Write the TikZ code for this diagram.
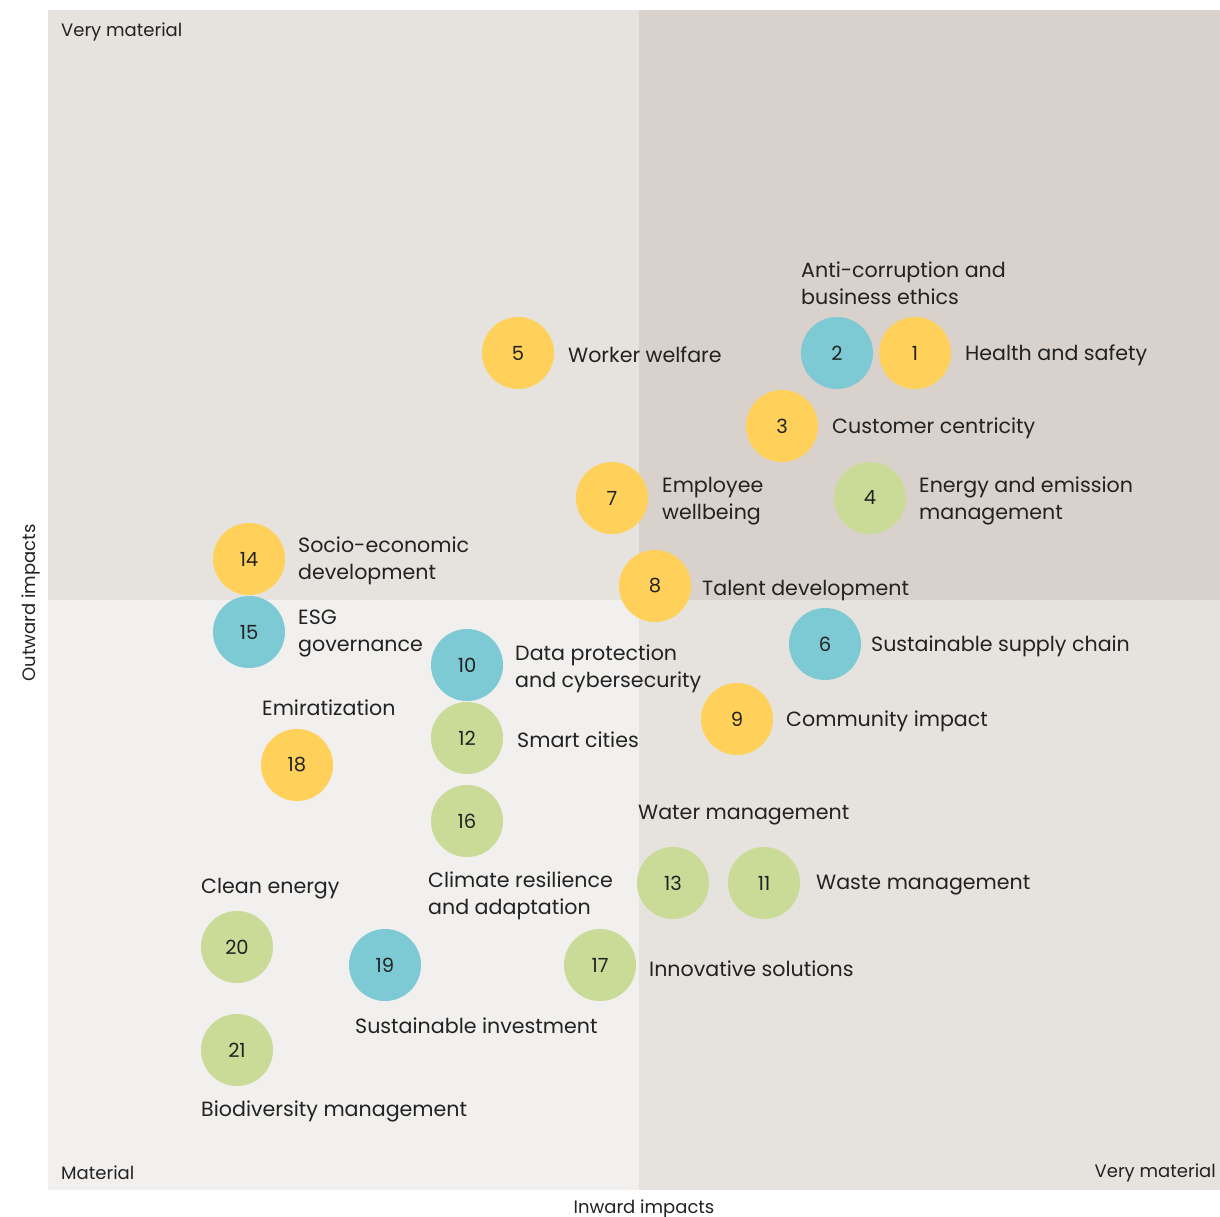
\documentclass[tikz,border=0pt]{standalone}
\usepackage{fontspec}
\setmainfont{Poppins}
\definecolor{qtl}{HTML}{E6E3DF}
\definecolor{qtr}{HTML}{D9D2CC}
\definecolor{qbl}{HTML}{F1F0EE}
\definecolor{qbr}{HTML}{E6E3DF}
\definecolor{cy}{HTML}{FFD05A}
\definecolor{cb}{HTML}{7DC9D4}
\definecolor{cg}{HTML}{C9DB96}
\definecolor{ink}{HTML}{222222}
\begin{document}
\begin{tikzpicture}[x=1pt,y=-1pt,
  bub/.style={circle,minimum size=72pt,inner sep=0pt,text=ink,font=\fontsize{19.5}{22}\selectfont},
  yb/.style={bub,fill=cy},
  bb/.style={bub,fill=cb},
  gb/.style={bub,fill=cg},
  lab/.style={anchor=west,align=left,inner sep=0pt,text=ink,yshift=-2pt,font=\fontsize{20.6}{27}\selectfont},
  ax/.style={inner sep=0pt,text=ink,yshift=-2.5pt,font=\fontsize{18}{22}\selectfont}]
\useasboundingbox (0,0) rectangle (1220,1217);
\fill[white] (0,0) rectangle (1220,1217);
\fill[qtl] (48,10) rectangle (639,600);
\fill[qtr] (639,10) rectangle (1220,600);
\fill[qbl] (48,600) rectangle (639,1190);
\fill[qbr] (639,600) rectangle (1220,1190);
% axis / corner labels
\node[ax,anchor=west] (vm1) at (61,29) {Very material};
\node[ax,anchor=west] (mat) at (61,1170) {Material};
\node[ax,anchor=east] (vm2) at (1216,1170) {Very material};
\node[ax] (xin) at (644,1206) {Inward impacts};
\node[ax,rotate=90,yshift=2.5pt,xshift=-2.5pt] (yout) at (33,598) {Outward impacts};
% bubbles
\node[yb] (c1) at (915,353) {1};
\node[bb] (c2) at (837,353) {2};
\node[yb] (c3) at (782,426) {3};
\node[gb] (c4) at (870,498) {4};
\node[yb] (c5) at (518,353) {5};
\node[bb] (c6) at (825,644) {6};
\node[yb] (c7) at (612,498) {7};
\node[yb] (c8) at (655,586) {8};
\node[yb] (c9) at (737,719) {9};
\node[bb] (c10) at (467,665) {10};
\node[gb] (c11) at (764,883) {11};
\node[gb] (c12) at (467,738) {12};
\node[gb] (c13) at (673,883) {13};
\node[yb] (c14) at (249,559) {14};
\node[bb] (c15) at (249,632) {15};
\node[gb] (c16) at (467,821) {16};
\node[gb] (c17) at (600,965) {17};
\node[yb] (c18) at (297,765) {18};
\node[bb] (c19) at (385,965) {19};
\node[gb] (c20) at (237,947) {20};
\node[gb] (c21) at (237,1050) {21};
% labels
\node[lab] (l1) at (965,353) {Health and safety};
\node[lab] (l2) at (801,281) {Anti-corruption and\\business ethics};
\node[lab] (l3) at (832,426) {Customer centricity};
\node[lab] (l4) at (919,499) {Energy and emission\\management};
\node[lab] (l5) at (568,353) {Worker welfare};
\node[lab] (l6) at (871,644) {Sustainable supply chain};
\node[lab] (l7) at (662,499) {Employee\\wellbeing};
\node[lab] (l8) at (702,589) {Talent development};
\node[lab] (l9) at (786,719) {Community impact};
\node[lab] (l10) at (515,667) {Data protection\\and cybersecurity};
\node[lab] (l11) at (816,883) {Waste management};
\node[lab] (l12) at (517,738) {Smart cities};
\node[lab] (l13) at (638,813) {Water management};
\node[lab] (l14) at (298,559) {Socio-economic\\development};
\node[lab] (l15) at (298,632) {ESG\\governance};
\node[lab] (l16) at (428,894) {Climate resilience\\and adaptation};
\node[lab] (l17) at (649,967) {Innovative solutions};
\node[lab] (l18) at (262,706) {Emiratization};
\node[lab] (l19) at (355,1024) {Sustainable investment};
\node[lab] (l20) at (201,887) {Clean energy};
\node[lab] (l21) at (201,1109) {Biodiversity management};
\end{tikzpicture}
\end{document}
